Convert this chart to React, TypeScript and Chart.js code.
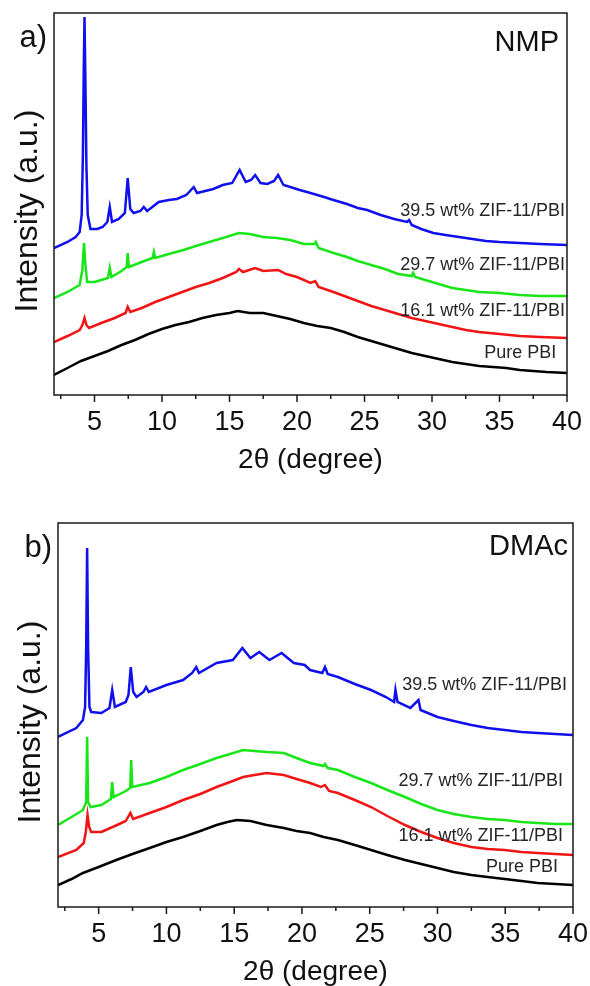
import React, { useEffect, useRef } from 'react';
import { Chart, registerables } from 'chart.js';

Chart.register(...registerables);

type Pt = [number, number];

const FONT = '"Liberation Sans", Arial, Helvetica, sans-serif';

const X_MIN = 2;
const X_MAX = 40;
const MAJOR_TICKS = [5, 10, 15, 20, 25, 30, 35, 40];
const MINOR_TICKS = [2.5, 7.5, 12.5, 17.5, 22.5, 27.5, 32.5, 37.5];
const X_TITLE = '2θ (degree)';
const Y_TITLE = 'Intensity (a.u.)';

const SERIES_NAMES = ['Pure PBI', '16.1 wt% ZIF-11/PBI', '29.7 wt% ZIF-11/PBI', '39.5 wt% ZIF-11/PBI'];
const SERIES_COLORS = ['#000000', '#f01414', '#18e618', '#1010ee'];

// ---------- Panel a) NMP ----------
const NMP_PURE: Pt[] = [
  [2, 20], [3, 27], [4, 34], [5, 39], [6, 44], [7, 50], [8, 55], [9, 61], [10, 66], [11, 70],
  [12, 73], [13, 77], [14, 80], [15, 82], [15.6, 84], [16.5, 82], [17.5, 82], [18.5, 79], [19.5, 76],
  [20.5, 72], [21.5, 69], [22.5, 67], [23.5, 63], [24.5, 58], [25.5, 54], [26.5, 50], [27.5, 46],
  [28.5, 42], [29.5, 39], [30.5, 36], [31.5, 33], [32.5, 31], [33.5, 29], [34.5, 28], [35.5, 27],
  [36.5, 25], [37.5, 24], [38.5, 23], [40, 22],
];
const NMP_161: Pt[] = [
  [2, 53], [3, 59], [3.9, 65], [4.1, 70], [4.26, 77], [4.4, 70], [4.6, 67], [5.5, 72], [6.5, 77],
  [7.3, 82], [7.46, 88], [7.65, 83], [8.5, 87], [9.5, 93], [10.5, 98], [11.5, 103], [12.5, 108],
  [13.5, 112], [14.5, 117], [15.5, 123], [15.7, 126], [16, 123], [16.9, 127], [17.5, 124], [18.6, 125],
  [19.2, 121], [20, 118], [21, 112], [21.35, 114], [21.6, 108], [22.7, 103], [23.7, 98], [24.5, 94],
  [25.5, 89], [26.5, 85], [27.5, 81], [28.5, 77], [29.5, 74], [30.5, 71], [31.5, 68], [32.5, 65],
  [33.5, 63], [35, 61], [36.5, 59], [38, 58], [40, 57],
];
const NMP_297: Pt[] = [
  [2, 97], [3, 103], [3.9, 110], [4.1, 125], [4.22, 152], [4.3, 135], [4.45, 113], [5, 113], [6, 117],
  [6.13, 127], [6.25, 118], [7, 124], [7.38, 128], [7.46, 142], [7.55, 128], [8.5, 133], [9.3, 137],
  [9.4, 143], [9.5, 137], [10.5, 141], [11.6, 145], [12.5, 149], [13.5, 153], [14.5, 157], [15.7, 162],
  [16.5, 161], [17.5, 158], [18.5, 157], [19.5, 155], [20.5, 151], [21.3, 151], [21.4, 153], [21.6, 147],
  [22.7, 142], [23.7, 138], [24.5, 134], [25.5, 130], [26.5, 126], [27.5, 121], [28.5, 119], [28.6, 122],
  [28.75, 118], [29.5, 115], [30.5, 111], [31.5, 107], [32.5, 105], [33.5, 103], [35, 102], [36.5, 100],
  [38, 99], [40, 99],
];
const NMP_395: Pt[] = [
  [2, 147], [3, 153], [3.6, 158], [3.9, 163], [4.05, 180], [4.14, 240], [4.2, 320], [4.26, 378],
  [4.32, 320], [4.4, 230], [4.5, 180], [4.7, 166], [5.2, 166], [5.6, 168], [5.95, 173], [6.13, 188],
  [6.3, 173], [6.8, 176], [7.25, 182], [7.46, 217], [7.65, 186], [7.9, 182], [8.4, 184], [8.65, 188],
  [8.9, 184], [9.76, 193], [10.5, 195], [11.1, 196], [11.8, 200], [12.35, 208], [12.6, 202], [13.2, 204],
  [13.8, 206], [14.5, 210], [15.2, 212], [15.75, 225], [16.2, 213], [16.6, 215], [16.9, 220], [17.3, 212],
  [17.8, 211], [18.3, 214], [18.6, 220], [19, 210], [19.5, 208], [20.2, 205], [21, 202], [22, 198],
  [22.7, 195], [23.7, 191], [24.5, 187], [25.2, 185], [26.2, 180], [27.2, 176], [28.15, 173], [28.3, 175],
  [28.5, 170], [29.2, 166], [30.1, 162], [31, 160], [32, 158], [33, 156], [34, 154], [35, 153],
  [36.5, 152], [38, 151], [40, 150],
];
const NMP_LABEL_X = [39.2, 39.85, 39.85, 39.85];
const NMP_LABEL_Y = [41.5, 83.5, 130, 184];

// ---------- Panel b) DMAc ----------
const DMAC_PURE: Pt[] = [
  [2, 22], [3, 28], [3.84, 34], [5, 40], [6.3, 47], [7.5, 53], [8.77, 59], [10, 65], [11.23, 70],
  [12.5, 76], [13.7, 82], [14.5, 85], [15.2, 87], [16.2, 86], [17.4, 82], [18.66, 79], [19.6, 76],
  [20.6, 74], [21.6, 70], [22.65, 67], [23.9, 62], [25.1, 57], [26.3, 52], [27.6, 47], [28.8, 43],
  [30, 39], [31.2, 35], [32.5, 32], [33.7, 30], [34.95, 28], [36.2, 26], [37.4, 24], [38.7, 23], [40, 22],
];
const DMAC_161: Pt[] = [
  [2, 50], [3.35, 57], [3.9, 64], [4.05, 75], [4.18, 92], [4.3, 80], [4.45, 75], [5.2, 75], [6.2, 81],
  [7, 86], [7.34, 94], [7.55, 88], [8.77, 94], [10, 100], [11.23, 107], [12.5, 113], [13.7, 120],
  [14.7, 125], [15.66, 130], [16.5, 132], [17.4, 134], [18.66, 132], [19.6, 128], [20.6, 124], [21.4, 120],
  [21.7, 122], [22, 116], [22.65, 114], [23.9, 107], [25.1, 100], [26.3, 91], [27.6, 82], [28.8, 75],
  [30, 69], [31.2, 64], [32.5, 60], [33.7, 58], [34.95, 57], [36.2, 55], [37.4, 54], [38.7, 53], [40, 52],
];
const DMAC_297: Pt[] = [
  [2, 82], [3, 90], [3.84, 97], [4.08, 105], [4.15, 170], [4.22, 105], [4.4, 100], [5.2, 102], [5.9, 108],
  [6, 125], [6.1, 110], [7, 116], [7.33, 119], [7.4, 147], [7.48, 120], [8.77, 124], [10, 130],
  [11.23, 137], [12.5, 143], [13.7, 149], [14.7, 153], [15.66, 157], [16.5, 156], [17.4, 155],
  [18.66, 154], [19.6, 149], [20.6, 144], [21.6, 141], [21.7, 143], [21.9, 139], [22.65, 137],
  [23.9, 130], [25.1, 124], [26.3, 117], [27.6, 110], [28.8, 103], [30, 97], [31.2, 93], [32.5, 90],
  [33.7, 88], [34.95, 87], [36.2, 85], [37.4, 84], [38.7, 83], [40, 83],
];
const DMAC_395: Pt[] = [
  [2, 170], [3.35, 179], [3.84, 187], [4, 200], [4.08, 260], [4.15, 359], [4.22, 260], [4.32, 200],
  [4.45, 195], [5.2, 194], [5.8, 199], [6, 217], [6.2, 200], [7, 205], [7.2, 212], [7.37, 240],
  [7.55, 215], [7.8, 210], [8.3, 215], [8.5, 220], [8.7, 215], [10, 222], [11.23, 227], [11.9, 234],
  [12.2, 240], [12.4, 234], [13.7, 244], [14.9, 247], [15.6, 259], [16.2, 249], [16.85, 255],
  [17.6, 247], [18.5, 254], [19.4, 244], [20.2, 242], [20.6, 237], [21.5, 234], [21.7, 240], [21.9, 233],
  [22.65, 230], [23.9, 223], [25.1, 217], [26.2, 210], [26.8, 205], [26.9, 217], [27.05, 205], [28, 199],
  [28.6, 207], [28.75, 197], [30, 190], [31.2, 186], [32.5, 182], [33.7, 179], [34.95, 177], [36.2, 175],
  [37.4, 174], [38.7, 173], [40, 172],
];
const DMAC_LABEL_X = [38.9, 39.27, 39.27, 39.56];
const DMAC_LABEL_Y = [39.5, 70.5, 125.5, 222];

interface PanelCfg {
  letter: string;
  solvent: string;
  series: Pt[][];
  labelX: number[];
  labelY: number[];
  yMax: number;
  canvasTop: number;
  canvasHeight: number;
  pad: { left: number; right: number; top: number };
  plotBottom: number;
  titlePad: number;
  letterPos: [number, number];
  solventPos: [number, number];
  yTitlePos: [number, number];
}

const PANELS: PanelCfg[] = [
  {
    letter: 'a)', solvent: 'NMP',
    series: [NMP_PURE, NMP_161, NMP_297, NMP_395],
    labelX: NMP_LABEL_X, labelY: NMP_LABEL_Y, yMax: 382,
    canvasTop: 0, canvasHeight: 493,
    pad: { left: 54, right: 23, top: 13 }, plotBottom: 395, titlePad: 16,
    letterPos: [47, 38], solventPos: [559, 43], yTitlePos: [28, 211],
  },
  {
    letter: 'b)', solvent: 'DMAc',
    series: [DMAC_PURE, DMAC_161, DMAC_297, DMAC_395],
    labelX: DMAC_LABEL_X, labelY: DMAC_LABEL_Y, yMax: 384,
    canvasTop: 493, canvasHeight: 510,
    pad: { left: 58, right: 17, top: 30 }, plotBottom: 414, titlePad: 14,
    letterPos: [52, 55], solventPos: [568, 54], yTitlePos: [31, 229],
  },
];

function makeDecor(cfg: PanelCfg) {
  return {
    id: 'decor',
    afterDraw(chart: any) {
      const { ctx, chartArea: a, scales } = chart;
      const xs = scales.x;
      const ys = scales.y;
      ctx.save();
      ctx.strokeStyle = '#1a1a1a';
      ctx.lineWidth = 1.5;
      ctx.strokeRect(a.left, a.top, a.right - a.left, a.bottom - a.top);
      ctx.beginPath();
      MAJOR_TICKS.forEach((v) => {
        const px = xs.getPixelForValue(v);
        ctx.moveTo(px, a.bottom);
        ctx.lineTo(px, a.bottom + 7);
      });
      MINOR_TICKS.forEach((v) => {
        const px = xs.getPixelForValue(v);
        ctx.moveTo(px, a.bottom);
        ctx.lineTo(px, a.bottom + 4);
      });
      ctx.stroke();

      ctx.fillStyle = '#262626';
      ctx.font = `18px ${FONT}`;
      ctx.textAlign = 'right';
      ctx.textBaseline = 'middle';
      SERIES_NAMES.forEach((name, i) => {
        ctx.fillText(name, xs.getPixelForValue(cfg.labelX[i]), ys.getPixelForValue(cfg.labelY[i]));
      });

      ctx.fillStyle = '#111';
      ctx.font = `29px ${FONT}`;
      ctx.fillText(cfg.solvent, cfg.solventPos[0], cfg.solventPos[1]);
      ctx.font = `31px ${FONT}`;
      ctx.fillText(cfg.letter, cfg.letterPos[0], cfg.letterPos[1]);

      ctx.translate(cfg.yTitlePos[0], cfg.yTitlePos[1]);
      ctx.rotate(-Math.PI / 2);
      ctx.textAlign = 'center';
      ctx.font = `32px ${FONT}`;
      ctx.fillText(Y_TITLE, 0, 0);
      ctx.restore();
    },
  };
}

function Panel({ cfg }: { cfg: PanelCfg }) {
  const ref = useRef<HTMLCanvasElement | null>(null);
  useEffect(() => {
    if (!ref.current) return;
    const chart = new Chart(ref.current, {
      type: 'line',
      data: {
        datasets: cfg.series.map((pts, i) => ({
          label: SERIES_NAMES[i],
          data: pts.map(([x, y]) => ({ x, y })),
          borderColor: SERIES_COLORS[i],
          backgroundColor: SERIES_COLORS[i],
          borderWidth: 2.5,
          pointRadius: 0,
          tension: 0,
          fill: false,
        })),
      },
      options: {
        responsive: false,
        animation: false,
        events: [],
        layout: { padding: { left: cfg.pad.left, right: cfg.pad.right, top: cfg.pad.top, bottom: 0 } },
        plugins: { legend: { display: false }, tooltip: { enabled: false } },
        scales: {
          x: {
            type: 'linear',
            min: X_MIN,
            max: X_MAX,
            afterBuildTicks: (s: any) => {
              s.ticks = MAJOR_TICKS.map((v) => ({ value: v }));
            },
            afterFit: (s: any) => {
              s.height = cfg.canvasHeight - cfg.plotBottom;
              s.paddingLeft = 0;
              s.paddingRight = 0;
            },
            grid: { display: false, drawTicks: false },
            border: { display: false },
            ticks: {
              padding: 11,
              color: '#111',
              font: { size: 27, family: FONT },
              maxRotation: 0,
              autoSkip: false,
              callback: (v: any) => String(v),
            },
            title: {
              display: true,
              text: X_TITLE,
              color: '#111',
              font: { size: 28, family: FONT },
              padding: { top: 0, bottom: cfg.titlePad },
            },
          },
          y: { type: 'linear', display: false, min: 0, max: cfg.yMax },
        },
      },
      plugins: [makeDecor(cfg)],
    } as any);
    return () => chart.destroy();
  }, [cfg]);
  return (
    <canvas
      ref={ref}
      width={590}
      height={cfg.canvasHeight}
      style={{ position: 'absolute', left: 0, top: cfg.canvasTop, width: 590, height: cfg.canvasHeight, display: 'block' }}
    />
  );
}

export default function App() {
  return (
    <div style={{ position: 'absolute', left: 0, top: 0, width: 590, height: 986, overflow: 'hidden', background: '#fff' }}>
      {PANELS.map((p, i) => (
        <Panel key={i} cfg={p} />
      ))}
    </div>
  );
}
